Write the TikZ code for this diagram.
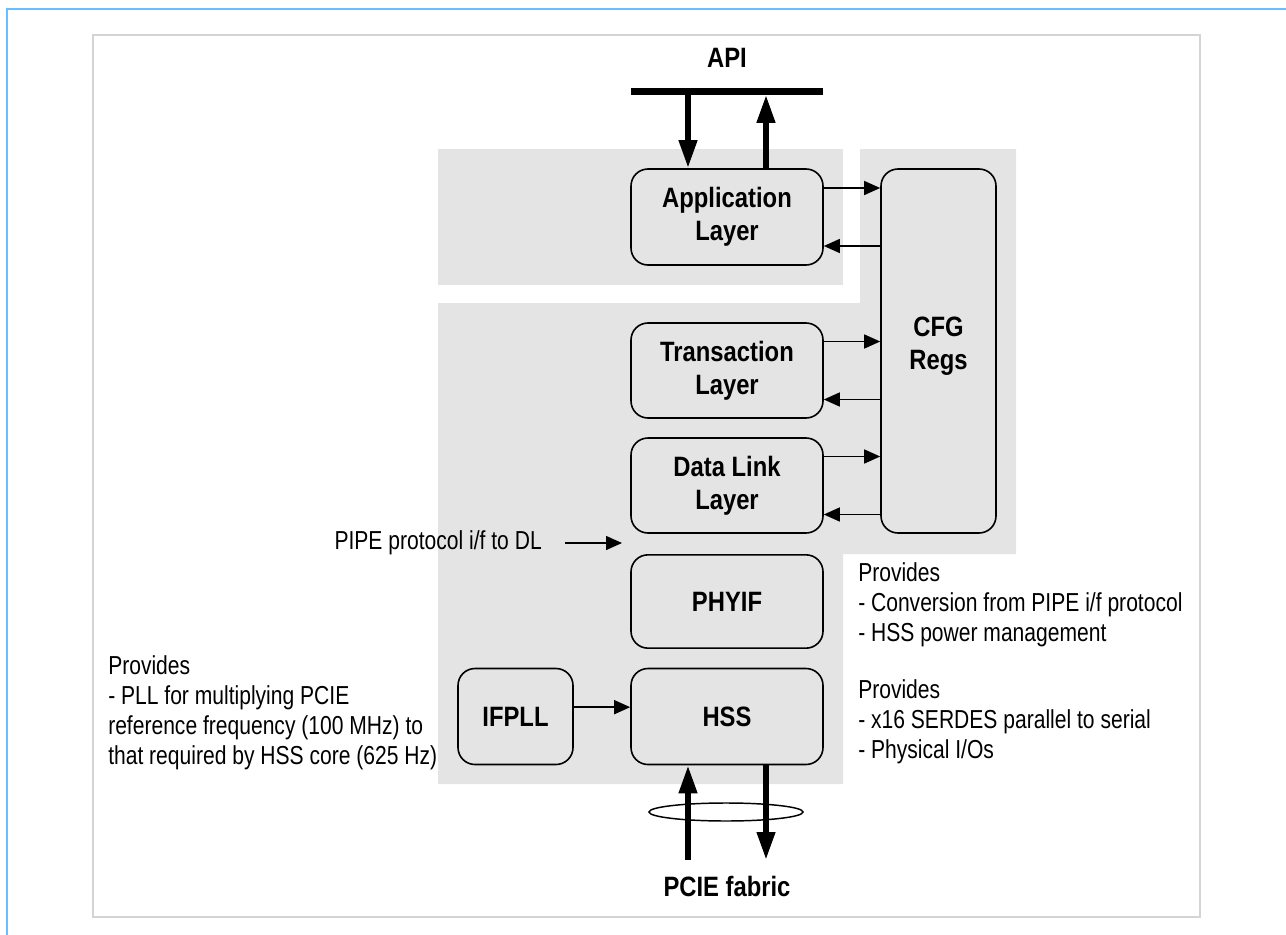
\documentclass[tikz,border=0pt]{standalone}
\usepackage{fontspec}
\setmainfont{Liberation Sans}[FakeStretch=0.81]
\newfontfamily\lblfont{Liberation Sans}[FakeStretch=0.85]
\usetikzlibrary{arrows.meta,shapes.geometric}
\definecolor{edgeblue}{HTML}{66BFFF}
\definecolor{framegray}{HTML}{D4D4D4}
\definecolor{regfill}{HTML}{E4E4E4}
\tikzset{
  blk/.style={draw, line width=1.2pt, rounded corners=12.75pt, fill=regfill,
    minimum width=144pt, align=center, inner sep=0pt,
    font=\lblfont\bfseries\fontsize{21pt}{25pt}\selectfont},
  tarrow/.style={line width=1.1pt, -{Triangle[length=12pt,width=10.5pt]}},
  thickarrow/.style={line width=4.5pt, -{Triangle[length=21pt,width=13pt]}},
  note/.style={align=left, inner sep=0pt, anchor=west,
    font=\fontsize{19.5pt}{22.5pt}\selectfont},
  title/.style={inner sep=0pt, font=\lblfont\bfseries\fontsize{21pt}{24pt}\selectfont}
}
\begin{document}
\begin{tikzpicture}[x=0.75pt,y=-0.75pt]
\useasboundingbox (0,0) rectangle (1286,935);
% page edge and frame
\draw[edgeblue, line width=2pt] (7,935) -- (7,9) -- (1286,9);
\draw[framegray, line width=1.5pt] (93,35) rectangle (1200,917);
% shaded regions
\fill[regfill] (438,149) rectangle (843,285);
\fill[regfill] (438,303) -- (860,303) -- (860,149) -- (1016,149) -- (1016,554)
  -- (843,554) -- (843,784) -- (438,784) -- cycle;

% blocks
\node[blk, minimum height=72pt] (app) at (727,217) {Application\\Layer};
\node[blk, minimum height=71.25pt] (tl) at (727,370.5) {Transaction\\Layer};
\node[blk, minimum height=71.25pt] (dll) at (727,485.5) {Data Link\\Layer};
\node[blk, minimum height=70pt] (phy) at (727,601.5) {PHYIF};
\node[blk, minimum height=72pt] (hss) at (727,716.5) {HSS};
\node[blk, minimum width=86.25pt, minimum height=72pt] (ifpll) at (515.5,716.5) {IFPLL};
\node[blk, minimum width=86.25pt, minimum height=273pt] (cfg) at (938.5,351) {};
\node[inner sep=0pt, align=center, font=\lblfont\bfseries\fontsize{21pt}{25pt}\selectfont]
  (cfgtext) at ([yshift=3.5pt]cfg.center) {CFG\\Regs};

% layer <-> configuration register links
\foreach \n in {app,tl,dll}{
  \path ([yshift=21.75pt]\n.east) coordinate (\n-o)
        ([yshift=-21.75pt]\n.east) coordinate (\n-i);
  \draw[tarrow] (\n-o) -- (\n-o -| cfg.west);
  \draw[tarrow] (\n-i -| cfg.west) -- (\n-i);
}
\draw[tarrow] ([yshift=7pt]ifpll.east) -- ([yshift=7pt]hss.west);

% API bus
\node[title] (api) at (727,58) {API};
\node[fill=black, minimum width=144pt, minimum height=5.25pt, inner sep=0pt] (bus) at (727,91) {};
\draw[thickarrow] ([xshift=-29.25pt]bus.south) -- ([xshift=-29.25pt]app.north);
\draw[thickarrow] ([xshift=29.25pt]app.north) -- ([xshift=29.25pt]bus.south);

% PCIE fabric
\node[title] (pcie) at (727,886) {PCIE fabric};
\coordinate (fabin) at (688,860);
\coordinate (fabout) at (766,860);
\node[draw, ellipse, line width=1.1pt, minimum width=115.5pt, minimum height=13.5pt, inner sep=0pt] (wrap) at (726,812) {};
\draw[thickarrow] (fabin) -- (fabin |- hss.south);
\draw[thickarrow] (fabout |- hss.south) -- (fabout);

% PIPE interface marker
\node[note, anchor=east] (pipe) at (542,543) {PIPE protocol i/f to DL};
\coordinate (pipetip) at (622,543);
\draw[tarrow] ([xshift=17.25pt]pipe.east) -- (pipetip);

% notes
\node[note] (nphy) at (858,605) {Provides\\- Conversion from PIPE i/f protocol\\- HSS power management};
\node[note] (nhss) at (858,722) {Provides\\- x16 SERDES parallel to serial\\- Physical I/Os};
\node[note] (npll) at (108,713) {Provides\\- PLL for multiplying PCIE\\reference frequency (100 MHz) to\\that required by HSS core (625 Hz)};
\end{tikzpicture}
\end{document}
